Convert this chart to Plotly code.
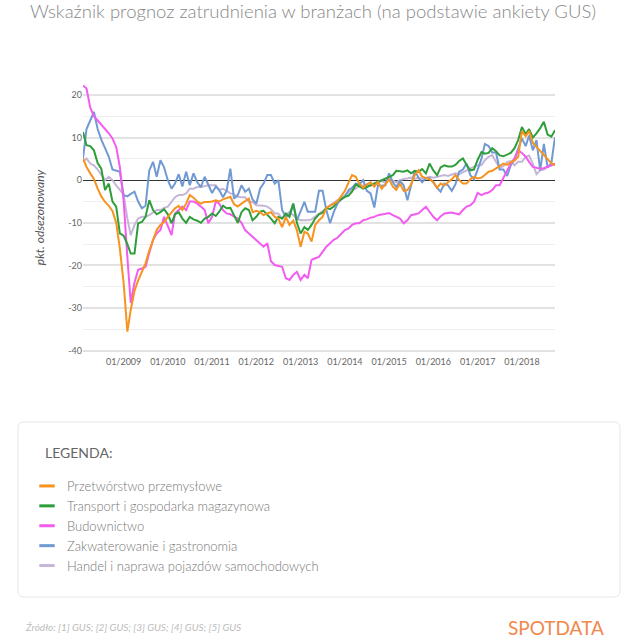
import pandas as pd
import plotly.graph_objects as go

months = pd.date_range("2008-02-01", periods=129, freq="MS")

series_names = [
    "Przetwórstwo przemysłowe",
    "Transport i gospodarka magazynowa",
    "Budownictwo",
    "Zakwaterowanie i gastronomia",
    "Handel i naprawa pojazdów samochodowych",
]
series_colors = ["#f7931e", "#2e9e3a", "#f25cf0", "#7199d3", "#c5b6d8"]

przetworstwo = [
    5.1, 3.1, 1.6, 0.3, -2, -3.8, -5.1, -6, -7.2, -10, -16, -24, -35.5, -30.4, -26, -23.5,
    -21.5, -19.5, -16.5, -13.8, -11.7, -10.5, -9.8, -8.6, -7.5, -6.6, -6, -7, -5.5, -3.5, -4.1, -5,
    -5.5, -5.1, -5.1, -5, -4.7, -5, -4.5, -4.2, -3.9, -5.6, -6.2, -5.5, -5, -4.3, -7.5, -7.2,
    -7.5, -8.2, -7.8, -7.5, -8.6, -9, -11, -8.6, -10.5, -9.5, -11.7, -15.6, -12.1, -12.5, -14.4, -10.5,
    -9.4, -8.6, -6.5, -5.9, -5.5, -5, -3.9, -2.5, -0.5, 1.2, 0.8, -0.8, -1.8, -1, -0.5, -1.5,
    -0.4, -2, -1, 0.2, -1.5, -2.3, -0.8, -2.5, -2.3, -1, 1.2, 2.3, 0.8, 0.5, 0.2, -0.4,
    -1.8, -0.8, -1.2, -0.5, 0.2, 1.2, 0, -0.8, -0.8, 0.2, 0.8, 0.4, 0.6, 1.2, 2, 2.2,
    2.8, 3.3, 3.9, 3.6, 4.2, 4.6, 5.5, 11.5, 10.3, 11.5, 8.8, 7.8, 6.8, 5.8, 4.8, 4, 3.5,
]
transport = [
    11.3, 8.2, 8, 7, 4, 2.7, -2.3, -0.8, -5, -6.2, -12.5, -13, -15, -17.2, -17.2, -10.1,
    -9.8, -8.6, -4.7, -7, -8, -7.5, -6.8, -8, -10.1, -8, -7.5, -9, -10, -8.6, -9.2, -9.5,
    -10, -9, -8.6, -7.8, -8.4, -7.4, -6, -6.6, -6.5, -8.4, -10, -7.5, -6.6, -7, -9.4, -8.6,
    -7.4, -7.2, -8, -9, -10.1, -8.6, -9, -7.8, -8.6, -5.5, -10, -12.5, -11, -11.7, -10.5, -9,
    -8, -7.6, -6.5, -6.8, -6.2, -5, -4.5, -3.9, -3.6, -2.7, -1, -1.4, -2, -1.6, -1.2, -0.8,
    -0.3, 0, 0.5, 0.9, 1.2, 2.2, 2.1, 2, 2.3, 1.6, 2.2, 2, 2.6, 1.6, 3.9, 2.3,
    1.2, 3, 3.5, 3.2, 3.2, 3.6, 4.5, 5.1, 3.6, 2.3, 2.5, 4.8, 6.6, 6.2, 6.4, 7.5,
    6.8, 5.8, 5.6, 6, 6.4, 7.5, 9.4, 12.5, 10.8, 12, 10, 11, 12.2, 13.7, 10.7, 10.2, 11.7,
]
budownictwo = [
    22.2, 21.5, 17, 15, 14, 13, 12.2, 11, 9.8, 7.8, 3.1, -4.7, -18, -28.8, -24, -21,
    -20.7, -20.3, -17, -14, -12.5, -11.7, -8.6, -10.9, -12.9, -7.8, -7, -6.2, -7, -5, -5, -5.5,
    -6.2, -7, -10.1, -8.6, -5, -5.5, -7, -7.8, -8, -8.5, -9, -10, -11.7, -12.5, -13.3, -14,
    -14.8, -15.6, -14.8, -19, -19.9, -20.1, -20.3, -23, -23.4, -22.2, -21.5, -23.4, -22.2, -23, -18.7, -18.3,
    -18, -16.8, -15.6, -14.8, -14, -13.5, -12.5, -11.7, -11.3, -10.5, -10.1, -10.1, -9.4, -9.2, -8.8, -8.6,
    -8.2, -8, -7.8, -7.7, -8.2, -8.6, -9, -10.1, -9.4, -8.2, -8, -7.8, -7, -6.2, -7.4, -8.6,
    -9.4, -8.5, -7.8, -7.7, -7.6, -7.8, -8, -7, -6.2, -5.9, -5.1, -3, -3.5, -3.1, -2.9, -2.3,
    -1.2, -1.2, 0.5, 2.5, 3.9, 5.1, 7, 6.4, 5.5, 4.3, 3.1, 2.9, 2.7, 2.8, 3.1, 3.5, 3.9,
]
zakwaterowanie = [
    5.1, 12, 14, 16, 12, 9.5, 7.5, 5.5, 2.5, 2.3, 2, -3.5, -3.8, -3.2, -2.7, -5,
    -6.6, -6, 2.3, 4.3, 0.8, 4.7, 3, 0, -2, -0.8, 1.4, -1.5, 2, -1.2, 1.6, -0.5,
    -1.6, 0.8, -1, -3, -1.5, -2.3, -4, -2.5, 2.7, -4.3, -3.5, -1.2, -2.7, -2, -4.5, -5.5,
    -2, -0.8, 1.2, 1.2, -0.8, 0, -7, -8.6, -8, -5.5, -9.4, -7, -5.1, -7.4, -7.4, -7.4,
    -2.5, -2.5, -7, -10.1, -7.5, -5.5, -4.5, -3.9, -2.3, -1.8, -0.8, -1, 0, -2.5, -3.1, -6.4,
    -1.2, -1.3, -1.2, 1.6, -0.5, -1.6, -0.2, -1.2, -4.7, -1, 2.3, 0.5, -0.5, 0.5, 0.4, -0.5,
    -1.8, -2.7, -0.8, -1.2, -2.5, -1, 2, 2.5, 3.9, 1.2, 0.2, 2.5, 5, 8.5, 8, 6.5,
    6.5, 2.5, 2.5, 1, 3.5, 5, 7.4, 9.8, 8, 10.5, 7, 9.4, 2.3, 8.5, 3, 4, 10.1,
]
handel = [
    4.3, 5.1, 3.9, 3.5, 2.5, 1.2, 0, 0.8, 0, -1.2, -2.2, -3.3, -9, -12.9, -10.5, -9,
    -8.6, -8.6, -8.2, -7.5, -7, -7, -6.5, -6.2, -5.1, -4, -3.5, -3.5, -3.1, -2, -2, -1.6,
    -1.6, -1.4, -1.2, -1.2, -1.2, -2.3, -2, -2.5, -3.1, -3.3, -3.9, -4, -4, -5.1, -5.1, -5.9,
    -5.9, -6, -6.2, -6.8, -7.8, -7.8, -9, -8.2, -7.4, -8.2, -9, -9.4, -9.4, -9.4, -9.2, -8.6,
    -7.8, -7.2, -6.6, -5.9, -5.3, -4.7, -4.3, -3.5, -2.8, -2.3, -2, -1.2, -1.3, -1, -1.3, -0.8,
    -0.4, -0.2, -0.6, 0.4, 0, -0.5, 0, 0.3, 0.4, 0.6, 0.3, 0.6, 0.3, 0.5, 0.8, 0.6,
    0.8, 1, 1.2, 1, 1.4, 1.6, 1.4, 1.8, 2.3, 2.7, 3.2, 3.5, 3.5, 4.7, 5.5, 5.9,
    4.3, 2.9, 3.3, 4.3, 4.5, 3.5, 4.3, 4.3, 5.5, 5.8, 3.9, 1.4, 2.3, 2.5, 3.1, 3.5, 3.9,
]
all_series = [przetworstwo, transport, budownictwo, zakwaterowanie, handel]

y_tickvals = [20, 10, 0, -10, -20, -30, -40]
y_ticktext = ["20", "10", "0", "-10", "-20", "-30", "-40"]

W, H = 640, 641
ML, MR, MT, MB = 83, 85, 80, 286
PW, PH = W - ML - MR, H - MT - MB


def px_x(p):
    return (p - ML) / PW


def px_y(p):
    return (H - MB - p) / PH


fig = go.Figure()

# draw in reverse so orange / green sit on top
for name, color, vals in reversed(list(zip(series_names, series_colors, all_series))):
    fig.add_trace(go.Scatter(
        x=months, y=vals, mode="lines", name=name,
        line=dict(color=color, width=2), showlegend=False,
    ))

# legend-only entries with short dash markers
for name, color in zip(series_names, series_colors):
    fig.add_trace(go.Scatter(
        x=[None], y=[None], mode="markers", name=name,
        marker=dict(symbol="line-ew", size=11, line=dict(color=color, width=3)),
    ))

# rounded legend box
x0, x1, y0, y1 = px_x(18), px_x(620), px_y(597), px_y(422)
rx, ry = 6 / PW, 6 / PH
box = (f"M {x0+rx},{y1} L {x1-rx},{y1} Q {x1},{y1} {x1},{y1-ry} "
       f"L {x1},{y0+ry} Q {x1},{y0} {x1-rx},{y0} L {x0+rx},{y0} "
       f"Q {x0},{y0} {x0},{y0+ry} L {x0},{y1-ry} Q {x0},{y1} {x0+rx},{y1} Z")

fig.update_layout(
    width=W, height=H,
    margin=dict(l=ML, r=MR, t=MT, b=MB),
    paper_bgcolor="white", plot_bgcolor="white",
    font=dict(family="Lato", color="#666666"),
    title=dict(
        text="Wskaźnik prognoz zatrudnienia w branżach (na podstawie ankiety GUS)",
        x=30 / W, xanchor="left", y=1 - 12 / H, yanchor="middle",
        font=dict(size=18.5, color="#888888", weight=300),
    ),
    xaxis=dict(
        type="date", range=[months[0], months[-1]],
        tickformat="%m/%Y", dtick="M12", tick0="2009-01-01",
        showgrid=False, showline=False, zeroline=False, ticks="",
        tickfont=dict(size=9, color="#666666"),
    ),
    yaxis=dict(
        range=[-41, 23.5], tickvals=y_tickvals, ticktext=y_ticktext,
        showgrid=True, gridcolor="#e2e2e2", gridwidth=1.5,
        minor=dict(dtick=5, tick0=0, showgrid=True, gridcolor="#efefef", gridwidth=1),
        zeroline=True, zerolinecolor="#333333", zerolinewidth=1,
        tickfont=dict(size=9, color="#666666"),
        title=dict(text="pkt. odsezonowany", standoff=21,
                   font=dict(size=12, color="#555555", style="italic")),
    ),
    showlegend=True,
    legend=dict(
        x=px_x(27), y=px_y(471), xanchor="left", yanchor="top",
        bgcolor="rgba(0,0,0,0)",
        font=dict(size=13, color="#777777", weight=300),
        tracegroupgap=0,
    ),
    shapes=[dict(type="path", path=box, xref="paper", yref="paper",
                 line=dict(color="#e6e6e6", width=1), fillcolor="rgba(0,0,0,0)",
                 layer="below")],
    annotations=[
        dict(text="LEGENDA:", xref="paper", yref="paper", x=px_x(43), y=px_y(452),
             xanchor="left", yanchor="middle", showarrow=False,
             font=dict(size=14, color="#666666")),
        dict(text="<i>Źródło: [1] GUS; [2] GUS; [3] GUS; [4] GUS; [5] GUS</i>",
             xref="paper", yref="paper", x=px_x(23), y=px_y(627),
             xanchor="left", yanchor="middle", showarrow=False,
             font=dict(size=10, color="#bbbbbb")),
        dict(text="SPOTDATA", xref="paper", yref="paper", x=px_x(606), y=px_y(627),
             xanchor="right", yanchor="middle", showarrow=False,
             font=dict(size=19, color="#f2874a")),
    ],
)

fig.write_html("out.html", config={"displayModeBar": False},
               post_script="document.body.style.margin='0';")
